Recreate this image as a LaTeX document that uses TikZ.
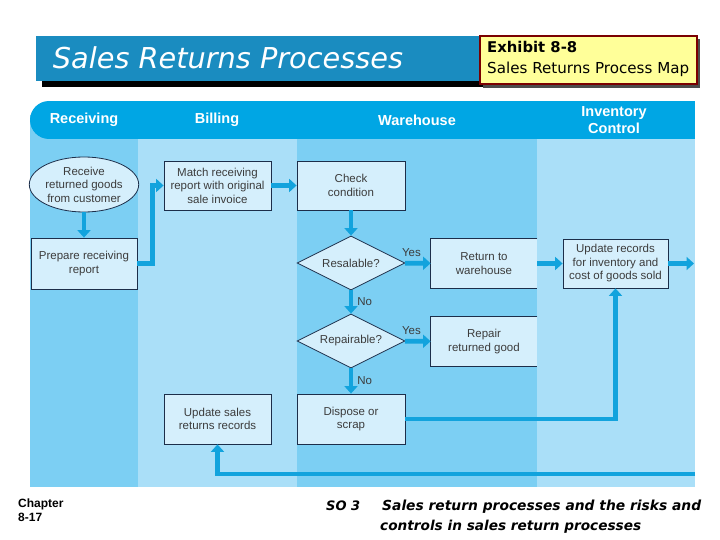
\documentclass[tikz,border=0pt]{standalone}
\usepackage{fontspec}
\setmainfont{Liberation Sans}
\newfontfamily\comicf{DejaVu Sans}
\usetikzlibrary{arrows.meta,shapes.geometric}
\definecolor{headcyan}{HTML}{00A6E4}
\definecolor{lanemid}{HTML}{7CCFF3}
\definecolor{lanelight}{HTML}{AADFF8}
\definecolor{boxfill}{HTML}{D5EFFC}
\definecolor{boxline}{HTML}{1C2E4A}
\definecolor{flowblue}{HTML}{12A3DD}
\definecolor{bannerblue}{HTML}{1A8CC0}
\definecolor{exyellow}{HTML}{FFFF99}
\definecolor{exred}{HTML}{7A0000}
\definecolor{txtgray}{HTML}{3C3C3C}
\tikzset{
  procbox/.style={rectangle, draw=boxline, fill=boxfill, line width=0.8pt,
    minimum width=107pt, minimum height=49pt, inner sep=0pt, align=center,
    text=txtgray, font=\fontsize{11.5}{13.5}\selectfont},
  decbox/.style={diamond, draw=boxline, fill=boxfill, line width=0.8pt,
    minimum width=108pt, minimum height=54pt, aspect=2, inner sep=0pt,
    text=txtgray, font=\fontsize{11.5}{13.5}\selectfont},
  flow/.style={draw=flowblue, line width=4.6pt,
    -{Triangle[width=13pt,length=7.5pt]}},
  lbl/.style={text=txtgray, font=\fontsize{11.5}{13}\selectfont, inner sep=1pt},
  lanehead/.style={text=white, font=\bfseries\fontsize{14.5}{17}\selectfont, align=center}
}
\begin{document}
\begin{tikzpicture}[x=1pt,y=-1pt]
\useasboundingbox (0,0) rectangle (720,540);
\fill[white] (0,0) rectangle (720,540);

% title banner
\fill[black] (42,44) rectangle (690,87);
\fill[bannerblue] (36,36) rectangle (686,81);
\node[text=white, inner sep=0pt] (title) at (228,58)
  {\resizebox{350pt}{!}{\comicf\itshape Sales Returns Processes}};
\fill[black!70] (483,39) rectangle (700,88);
\draw[exred, line width=2pt, fill=exyellow] (480,36) rectangle (697,84);
\node[anchor=base west, inner sep=0pt] (exh) at (487,53)
  {\resizebox{90pt}{!}{\comicf\bfseries Exhibit 8-8}};
\node[anchor=base west, inner sep=0pt] (exh2) at (487,74)
  {\resizebox{202pt}{!}{\comicf Sales Returns Process Map}};

% lanes
\fill[lanemid] (30,115) rectangle (138,487);
\fill[lanelight] (138,115) rectangle (297,487);
\fill[lanemid] (297,115) rectangle (537,487);
\fill[lanelight] (537,115) rectangle (695,487);
% header
\fill[headcyan] (49,101) rectangle (695,139);
\fill[headcyan] (49,120) circle (19);
\node[lanehead] (h1) at (84,120) {Receiving};
\node[lanehead] (h2) at (217,120) {Billing};
\node[lanehead] (h3) at (417,120) {Warehouse};
\node[lanehead] (h4) at (614,120) {Inventory\\Control};

% nodes
\node[ellipse, draw=boxline, fill=boxfill, line width=0.8pt, minimum width=105pt,
  minimum height=55pt, inner sep=0pt, align=center, text=txtgray,
  font=\fontsize{11.5}{13.5}\selectfont] (recv) at (84,184.5)
  {Receive\\returned goods\\from customer};
\node[procbox, minimum width=106pt, minimum height=51pt] (prep) at (84,263.5) {Prepare receiving\\report};
\node[procbox] (match) at (217.5,185.5) {Match receiving\\report with original\\sale invoice};
\node[procbox, minimum width=108pt] (check) at (351,185.5) {Check\\condition};
\node[decbox] (resal) at (351,263) {Resalable?};
\node[procbox, minimum width=106pt, draw=none] (ret) at (484,263.5) {Return to\\warehouse};
\draw[boxline, line width=0.8pt] (ret.north east) -- (ret.north west) -- (ret.south west) -- (ret.south east);
\node[procbox, minimum width=105pt] (upd) at (615.5,263.5) {Update records\\for inventory and\\cost of goods sold};
\node[decbox] (repa) at (351,341) {Repairable?};
\node[procbox, minimum width=106pt, draw=none] (repair) at (484,341.5) {Repair\\returned good};
\draw[boxline, line width=0.8pt] (repair.north east) -- (repair.north west) -- (repair.south west) -- (repair.south east);
\node[procbox, minimum width=108pt, minimum height=50pt] (disp) at (351,419) {Dispose or\\scrap};
\node[procbox, minimum height=50pt] (usr) at (217.5,419) {Update sales\\returns records};

\coordinate (outR) at (694,263.5);
\coordinate (inR) at (695,474);

% connectors
\draw[flow] (recv) -- (prep);
\draw[flow] (prep.east) -- ++(15,0) |- (match.west);
\draw[flow] (match) -- (check);
\draw[flow] (check) -- (resal);
\draw[flow] (resal) -- node[lbl, anchor=south, pos=0.25, yshift=3pt] {Yes} (ret);
\draw[flow] (ret) -- (upd);
\draw[flow] (upd) -- (outR);
\draw[flow] (resal) -- node[lbl, anchor=west, xshift=3pt] {No} (repa);
\draw[flow] (repa) -- node[lbl, anchor=south, pos=0.25, yshift=3pt] {Yes} (repair);
\draw[flow] (repa) -- node[lbl, anchor=west, xshift=3pt] {No} (disp);
\draw[flow] (disp.east) -| (upd.south);
\draw[flow] (inR) -| (usr.south);

% footer
\node[anchor=base west, inner sep=0pt, font=\bfseries\fontsize{12}{13}\selectfont] (ch1) at (18,507) {Chapter};
\node[anchor=base west, inner sep=0pt, font=\bfseries\fontsize{12}{13}\selectfont] (ch2) at (18,521) {8-17};
\node[anchor=base west, inner sep=0pt] (so) at (326,510)
  {\comicf\bfseries\itshape\fontsize{13}{15}\selectfont SO 3};
\node[anchor=base west, inner sep=0pt] (so1) at (382,510)
  {\resizebox{319pt}{!}{\comicf\bfseries\itshape Sales return processes and the risks and}};
\node[anchor=base west, inner sep=0pt] (so2) at (380,530)
  {\resizebox{261pt}{!}{\comicf\bfseries\itshape controls in sales return processes}};
\end{tikzpicture}
\end{document}
